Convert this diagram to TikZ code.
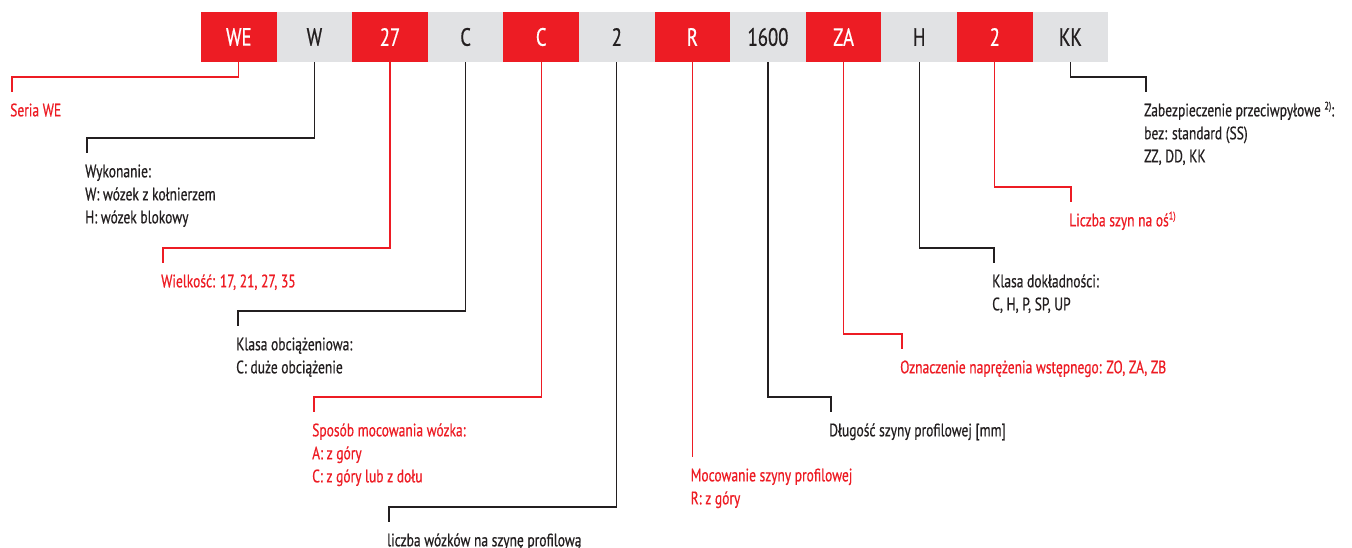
\documentclass[tikz,border=0pt]{standalone}
\usepackage{fontspec}
\setmainfont[FakeStretch=0.75,FakeBold=0.6]{PT Sans}
\definecolor{wred}{HTML}{ED1C24}
\definecolor{wgrey}{HTML}{E1E2E4}
\definecolor{wdark}{HTML}{231F20}
\newcommand{\supx}[1]{\raisebox{0.75ex}{\fontsize{11}{11}\selectfont #1}}
\begin{document}
\begin{tikzpicture}[x=1pt,y=-1pt,
  codebox/.style={minimum width=75.6pt,minimum height=50pt,inner sep=0pt,
    font=\fontsize{25}{25}\selectfont},
  redbox/.style={codebox,fill=wred,text=white},
  greybox/.style={codebox,fill=wgrey,text=wdark},
  lbl/.style={anchor=north west,inner sep=0pt,align=left,
    font=\fontsize{18}{23}\selectfont},
  redlbl/.style={lbl,text=wred},
  darklbl/.style={lbl,text=wdark},
  redline/.style={draw=wred,line width=1.2pt},
  darkline/.style={draw=wdark,line width=1.2pt}]
\useasboundingbox (0,0) rectangle (1352,547);
% code boxes
\node[redbox]  (b1)  at (238.8,37) {WE};
\node[greybox] (b2)  at (314.4,37) {W};
\node[redbox]  (b3)  at (390.0,37) {27};
\node[greybox] (b4)  at (465.6,37) {C};
\node[redbox]  (b5)  at (541.2,37) {C};
\node[greybox] (b6)  at (616.8,37) {2};
\node[redbox]  (b7)  at (692.4,37) {R};
\node[greybox] (b8)  at (768.0,37) {1600};
\node[redbox]  (b9)  at (843.6,37) {ZA};
\node[greybox] (b10) at (919.2,37) {H};
\node[redbox]  (b11) at (994.8,37) {2};
\node[greybox] (b12) at (1070.4,37) {KK};
% labels
\node[redlbl]  (l1)  at (10,100)  {\strut Seria WE};
\node[darklbl] (l2)  at (85,161)  {\strut Wykonanie:\\W: wózek z kołnierzem\\H: wózek blokowy};
\node[redlbl]  (l3)  at (161,271) {\strut Wielkość: 17, 21, 27, 35};
\node[darklbl] (l4)  at (236,334) {\strut Klasa obciążeniowa:\\C: duże obciążenie};
\node[redlbl]  (l5)  at (312,420) {\strut Sposób mocowania wózka:\\A: z góry\\C: z góry lub z dołu};
\node[darklbl] (l6)  at (387,530) {\strut liczba wózków na szynę profilową};
\node[redlbl]  (l7)  at (690.5,465) {\strut Mocowanie szyny profilowej\\R: z góry};
\node[darklbl] (l8)  at (829,420) {\strut Długość szyny profilowej [mm]};
\node[redlbl]  (l9)  at (900,357) {\strut Oznaczenie naprężenia wstępnego: ZO, ZA, ZB};
\node[darklbl] (l10) at (992,271) {\strut Klasa dokładności:\\C, H, P, SP, UP};
\node[redlbl]  (l11) at (1069,210) {\strut Liczba szyn na oś\supx{1)}};
\node[darklbl] (l12) at (1144,100) {\strut Zabezpieczenie przeciwpyłowe \supx{2)}:\\bez: standard (SS)\\ZZ, DD, KK};
% connectors
\draw[redline]  (b1.south)  |- ([shift={(2pt,23pt)}]l1.north west)  -- ++(0,-15pt);
\draw[darkline] (b2.south)  |- ([shift={(2pt,23pt)}]l2.north west)  -- ++(0,-15pt);
\draw[redline]  (b3.south)  |- ([shift={(2pt,23pt)}]l3.north west)  -- ++(0,-15pt);
\draw[darkline] (b4.south)  |- ([shift={(2pt,23pt)}]l4.north west)  -- ++(0,-15pt);
\draw[redline]  (b5.south)  |- ([shift={(2pt,23pt)}]l5.north west)  -- ++(0,-15pt);
\draw[darkline] (b6.south)  |- ([shift={(2pt,23pt)}]l6.north west)  -- ++(0,-15pt);
\draw[redline]  (b7.south)  -- ([yshift=8pt]b7.south |- l7.north);
\draw[darkline] (b8.south)  |- ([shift={(2pt,23pt)}]l8.north west)  -- ++(0,-15pt);
\draw[redline]  (b9.south)  |- ([shift={(2pt,23pt)}]l9.north west)  -- ++(0,-15pt);
\draw[darkline] (b10.south) |- ([shift={(2pt,23pt)}]l10.north west) -- ++(0,-15pt);
\draw[redline]  (b11.south) |- ([shift={(2pt,23pt)}]l11.north west) -- ++(0,-15pt);
\draw[darkline] (b12.south) |- ([shift={(2pt,23pt)}]l12.north west) -- ++(0,-15pt);
\end{tikzpicture}
\end{document}
